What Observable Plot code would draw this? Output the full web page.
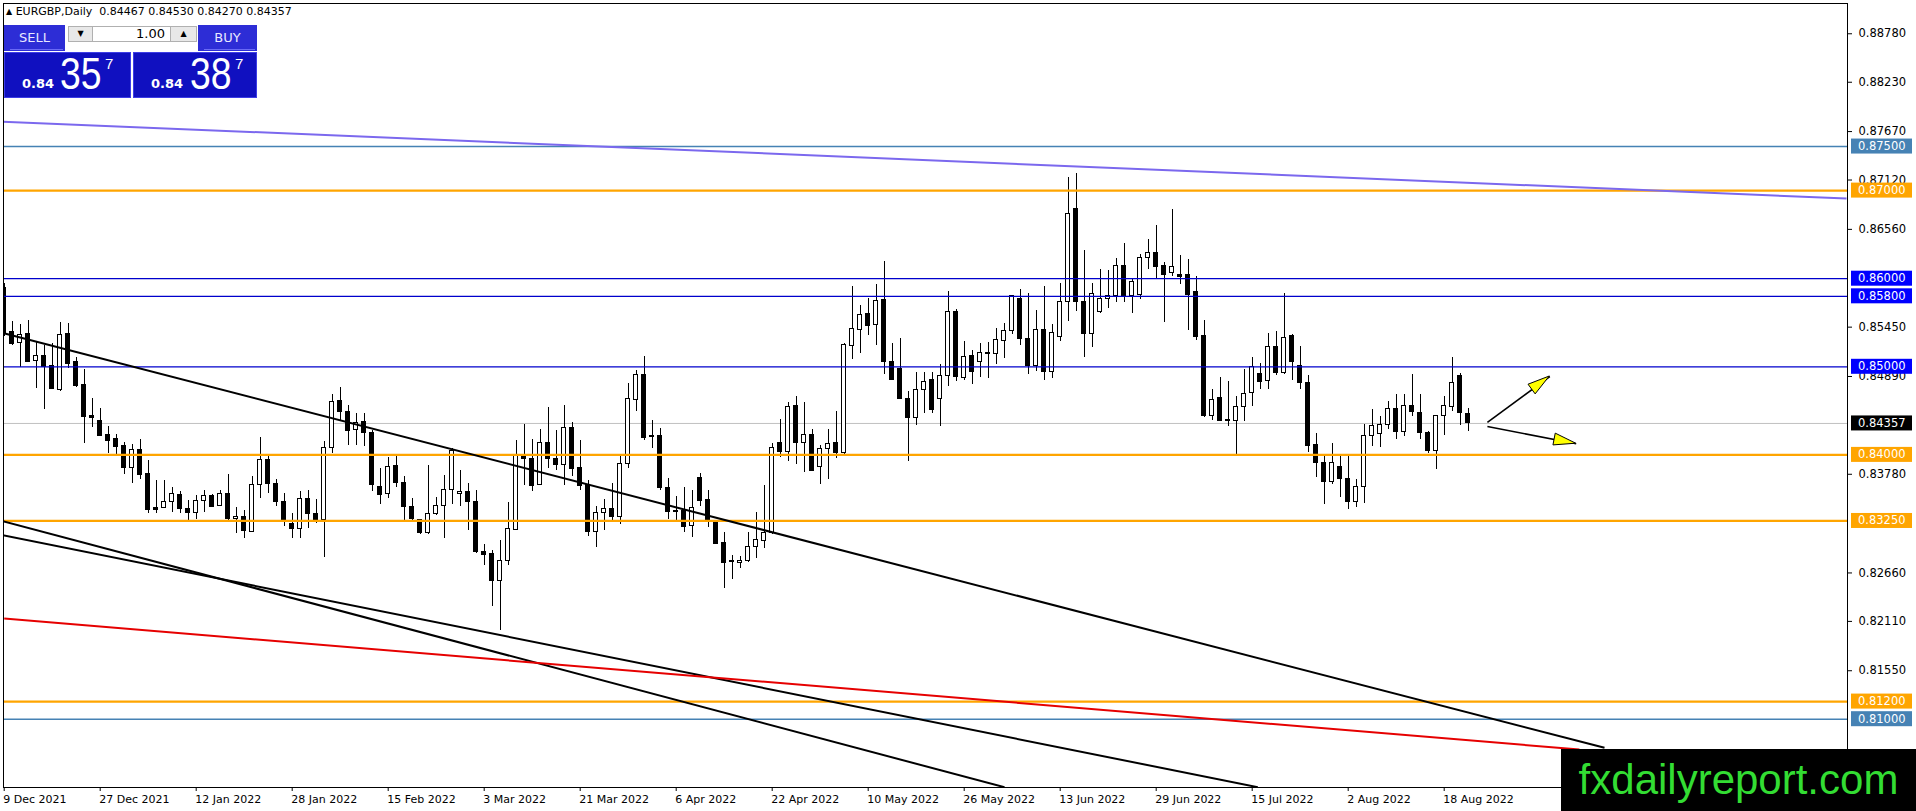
<!DOCTYPE html>
<html>
<head>
<meta charset="utf-8">
<script src="https://cdn.jsdelivr.net/npm/d3@7"></script>
<script src="https://cdn.jsdelivr.net/npm/@observablehq/plot@0.6"></script>
<style>
html,body{margin:0;padding:0;background:#fff;width:1916px;height:811px;overflow:hidden;font-family:"DejaVu Sans",sans-serif;}
#chart{position:absolute;left:0;top:0;}
#hdr{position:absolute;left:6px;top:5px;font-size:11px;line-height:13px;color:#000;white-space:pre;}
#hdr .tri{font-size:8px;vertical-align:1px;}
.hd{position:absolute;background:#2d2dd6;color:#e8e8ff;font-size:13px;text-align:center;line-height:26px;}
.hd .sep{position:absolute;left:6px;right:2px;bottom:1px;height:1px;background:#6a6af5;}
.btn{position:absolute;background:#e8e8e8;border:1px solid #b0b0b0;box-sizing:border-box;font-size:8px;text-align:center;line-height:14px;color:#000;}
.inp{position:absolute;background:#fff;border:1px solid #b0b0b0;box-sizing:border-box;font-size:13px;text-align:right;line-height:14px;padding-right:5px;color:#000;}
.pbox{position:absolute;background:#1010c0;border:1px solid #3d3de6;box-sizing:border-box;color:#fff;}
.pbox span{position:absolute;line-height:1;white-space:pre;}
.small{font-family:"DejaVu Sans";font-weight:bold;font-size:13px;}
.big{font-family:"Liberation Sans",Arial,sans-serif;font-size:44px;transform:scaleX(0.85);transform-origin:left top;}
.sup{font-family:"Liberation Sans",Arial,sans-serif;font-size:15px;}
#wm{position:absolute;left:1561px;top:749px;width:355px;height:62px;background:#000;color:#33dd33;font-family:"Liberation Sans",Arial,sans-serif;font-size:42px;line-height:62px;text-align:center;}
</style>
</head>
<body>
<div id="chart"></div>
<div id="hdr"></div>
<div id="panel"></div>
<div id="wm">fxdailyreport.com</div>
<script>
// ---------- data ----------
const symbol = "EURGBP,Daily";
const tickLabels = ["9 Dec 2021","27 Dec 2021","12 Jan 2022","28 Jan 2022","15 Feb 2022","3 Mar 2022","21 Mar 2022","6 Apr 2022","22 Apr 2022","10 May 2022","26 May 2022","13 Jun 2022","29 Jun 2022","15 Jul 2022","2 Aug 2022","18 Aug 2022"];
const tickBars = [0,12,24,36,48,60,72,84,96,108,120,132,144,156,168,180];

const open = [0.8589,0.8539,0.8527,0.8537,0.8507,0.8512,0.8501,0.8474,0.8537,0.8505,
0.8479,0.8444,0.8438,0.8423,0.8418,0.8410,0.8385,0.8406,0.8378,0.8340,
0.8340,0.8346,0.8355,0.8339,0.8334,0.8348,0.8353,0.8342,0.8356,0.8327,
0.8330,0.8313,0.8366,0.8394,0.8367,0.8346,0.8322,0.8316,0.8350,0.8333,
0.8326,0.8408,0.8461,0.8449,0.8428,0.8437,0.8425,0.8363,0.8356,0.8387,
0.8368,0.8341,0.8326,0.8311,0.8333,0.8342,0.8360,0.8356,0.8358,0.8346,
0.8290,0.8287,0.8257,0.8279,0.8315,0.8399,0.8395,0.8366,0.8413,0.8395,
0.8389,0.8431,0.8385,0.8366,0.8313,0.8334,0.8339,0.8329,0.8390,0.8462,
0.8491,0.8421,0.8421,0.8362,0.8336,0.8336,0.8319,0.8374,0.8349,0.8324,
0.8300,0.8279,0.8277,0.8279,0.8295,0.8302,0.8311,0.8414,0.8403,0.8455,
0.8413,0.8423,0.8386,0.8407,0.8413,0.8402,0.8524,0.8542,0.8560,0.8547,
0.8576,0.8506,0.8498,0.8464,0.8442,0.8474,0.8485,0.8463,0.8490,0.8562,
0.8487,0.8512,0.8505,0.8516,0.8515,0.8529,0.8541,0.8577,0.8532,0.8501,
0.8542,0.8494,0.8534,0.8574,0.8679,0.8574,0.8537,0.8562,0.8577,0.8580,
0.8614,0.8580,0.8581,0.8624,0.8629,0.8614,0.8606,0.8604,0.8604,0.8585,
0.8535,0.8444,0.8465,0.8440,0.8439,0.8454,0.8470,0.8492,0.8484,0.8522,
0.8493,0.8535,0.8501,0.8482,0.8411,0.8391,0.8369,0.8386,0.8373,0.8347,
0.8363,0.8421,0.8424,0.8434,0.8452,0.8426,0.8455,0.8448,0.8425,0.8404,
0.8444,0.8454,0.8489,0.84467];
const high = [0.8594,0.8551,0.8548,0.8552,0.8528,0.8524,0.8526,0.8550,0.8549,0.8510,
0.8497,0.8464,0.8453,0.8432,0.8423,0.8414,0.8412,0.8417,0.8394,0.8371,
0.8371,0.8363,0.8358,0.8348,0.8354,0.8360,0.8355,0.8360,0.8378,0.8340,
0.8337,0.8375,0.8420,0.8399,0.8372,0.8356,0.8334,0.8358,0.8360,0.8349,
0.8415,0.8469,0.8477,0.8456,0.8447,0.8447,0.8428,0.8385,0.8397,0.8398,
0.8376,0.8350,0.8327,0.8388,0.8352,0.8377,0.8407,0.8382,0.8367,0.8360,
0.8298,0.8291,0.8303,0.8346,0.8416,0.8435,0.8417,0.8429,0.8454,0.8428,
0.8456,0.8437,0.8416,0.8371,0.8341,0.8349,0.8368,0.8398,0.8481,0.8496,
0.8512,0.8439,0.8430,0.8373,0.8353,0.8363,0.8360,0.8379,0.8360,0.8326,
0.8312,0.8286,0.8285,0.8312,0.8335,0.8365,0.8413,0.8440,0.8460,0.8466,
0.8460,0.8429,0.8411,0.8429,0.8449,0.8526,0.8591,0.8570,0.8577,0.8593,
0.8620,0.8526,0.8532,0.8472,0.8493,0.8493,0.8494,0.8503,0.8585,0.8565,
0.8529,0.8518,0.8527,0.8528,0.8543,0.8549,0.8581,0.8588,0.8583,0.8564,
0.8591,0.8548,0.8594,0.8715,0.8719,0.8632,0.8594,0.8611,0.8609,0.8623,
0.8640,0.8600,0.8627,0.8645,0.8660,0.8618,0.8678,0.8626,0.8622,0.8602,
0.8553,0.8474,0.8488,0.8483,0.8466,0.8497,0.8510,0.8504,0.8538,0.8540,
0.8583,0.8537,0.8523,0.8490,0.8424,0.8401,0.8413,0.8398,0.8398,0.8372,
0.8435,0.8451,0.8444,0.8461,0.8469,0.8469,0.8491,0.8469,0.8426,0.8445,
0.8466,0.8511,0.8492,0.84530];
const low = [0.8534,0.8524,0.8499,0.8505,0.8475,0.8452,0.8474,0.8472,0.8498,0.8477,
0.8413,0.8431,0.8421,0.8402,0.8401,0.8378,0.8367,0.8372,0.8334,0.8333,
0.8339,0.8335,0.8333,0.8324,0.8327,0.8335,0.8340,0.8341,0.8325,0.8311,
0.8305,0.8312,0.8350,0.8356,0.8341,0.8319,0.8305,0.8305,0.8316,0.8322,
0.8284,0.8402,0.8439,0.8411,0.8411,0.8410,0.8358,0.8344,0.8350,0.8363,
0.8323,0.8326,0.8310,0.8310,0.8331,0.8305,0.8344,0.8341,0.8314,0.8288,
0.8274,0.8228,0.8201,0.8274,0.8314,0.8365,0.8359,0.8365,0.8384,0.8382,
0.8365,0.8376,0.8360,0.8307,0.8295,0.8314,0.8323,0.8321,0.8384,0.8449,
0.8416,0.8407,0.8360,0.8327,0.8326,0.8312,0.8306,0.8341,0.8318,0.8298,
0.8248,0.8259,0.8271,0.8278,0.8282,0.8294,0.8310,0.8397,0.8392,0.8389,
0.8380,0.8382,0.8366,0.8372,0.8396,0.8401,0.8508,0.8515,0.8535,0.8524,
0.8491,0.8484,0.8463,0.8392,0.8433,0.8447,0.8447,0.8432,0.8478,0.8483,
0.8485,0.8480,0.8488,0.8487,0.8503,0.8509,0.8537,0.8524,0.8491,0.8495,
0.8485,0.8487,0.8529,0.8551,0.8563,0.8510,0.8522,0.8560,0.8566,0.8573,
0.8573,0.8560,0.8576,0.8610,0.8600,0.8550,0.8602,0.8593,0.8541,0.8530,
0.8443,0.8439,0.8438,0.8432,0.8401,0.8438,0.8455,0.8474,0.8474,0.8490,
0.8491,0.8485,0.8474,0.8403,0.8374,0.8344,0.8366,0.8352,0.8338,0.8340,
0.8345,0.8409,0.8408,0.8429,0.8417,0.8421,0.8444,0.8417,0.8402,0.8383,
0.8422,0.8449,0.8433,0.84270];
const close = [0.8538,0.8526,0.8536,0.8506,0.8512,0.8500,0.8475,0.8536,0.8503,0.8478,
0.8443,0.8442,0.8422,0.8416,0.8409,0.8385,0.8406,0.8377,0.8338,0.8338,
0.8346,0.8356,0.8339,0.8334,0.8348,0.8353,0.8341,0.8356,0.8327,0.8330,
0.8314,0.8366,0.8394,0.8367,0.8346,0.8326,0.8316,0.8350,0.8333,0.8326,
0.8408,0.8460,0.8449,0.8427,0.8436,0.8425,0.8366,0.8355,0.8386,0.8368,
0.8341,0.8327,0.8311,0.8333,0.8342,0.8360,0.8404,0.8358,0.8346,0.8290,
0.8286,0.8257,0.8280,0.8316,0.8399,0.8395,0.8365,0.8413,0.8395,0.8389,
0.8431,0.8384,0.8365,0.8313,0.8334,0.8339,0.8329,0.8390,0.8463,0.8491,
0.8419,0.8420,0.8362,0.8335,0.8335,0.8318,0.8340,0.8348,0.8324,0.8299,
0.8277,0.8278,0.8280,0.8295,0.8303,0.8311,0.8408,0.8403,0.8454,0.8413,
0.8423,0.8382,0.8407,0.8412,0.8402,0.8525,0.8543,0.8559,0.8546,0.8575,
0.8505,0.8485,0.8464,0.8442,0.8474,0.8483,0.8451,0.8490,0.8562,0.8488,
0.8511,0.8494,0.8516,0.8515,0.8530,0.8541,0.8580,0.8532,0.8501,0.8542,
0.8494,0.8538,0.8574,0.8674,0.8574,0.8537,0.8583,0.8577,0.8580,0.8614,
0.8580,0.8596,0.8624,0.8629,0.8613,0.8604,0.8613,0.8602,0.8582,0.8534,
0.8444,0.8462,0.8438,0.8438,0.8454,0.8469,0.8500,0.8483,0.8522,0.8493,
0.8533,0.8505,0.8482,0.8410,0.8391,0.8369,0.8391,0.8373,0.8347,0.8363,
0.8421,0.8433,0.8434,0.8452,0.8426,0.8455,0.8449,0.8425,0.8404,0.8444,
0.8455,0.8482,0.8447,0.84357];

const priceTicks = [0.8878,0.8823,0.8767,0.8712,0.8656,0.8545,0.8489,0.8378,0.8266,0.8211,0.8155];
const levelValues = [0.8750,0.8700,0.8600,0.8580,0.8500,0.8400,0.8325,0.8120,0.8100];
const levelKinds  = ["steel","orange","blue","blue","blue","orange","orange","orange","steel"];
const bidPrice = 0.84357;
const askPrice = 0.84387;
const lotSize = "1.00";

// trend lines: (bar index, price) -> (bar index, price)
const trendKinds  = ["purple","black","black","black","red"];
const trendBarA   = [-0.46,-0.05,-0.46,-0.46,0];
const trendPriceA = [0.87784,0.85381,0.83255,0.83093,0.82143];
const trendBarB   = [230.29,200.04,125.04,156.7,196.9];
const trendPriceB = [0.86910,0.80675,0.80228,0.80228,0.80656];

// arrows
const arrowBarA   = [185.4,185.4];
const arrowPriceA = [0.84368,0.84322];
const arrowBarB   = [193.2,196.5];
const arrowPriceB = [0.84890,0.84127];

// ---------- styles ----------
const levelStyle = {
  steel:  {stroke:"#4682B4", width:1.6, box:"#4682B4"},
  orange: {stroke:"#FFA500", width:2.2, box:"#FFA500"},
  blue:   {stroke:"#0000CC", width:1.2, box:"#0000FF"}
};
const trendStyle = {purple:{stroke:"#7B68EE",width:2}, black:{stroke:"#000000",width:2}, red:{stroke:"#E60000",width:2}};

// ---------- build ----------
const bars = open.map((o, i) => ({i, open:o, high:high[i], low:low[i], close:close[i]}));
const upBars = bars.filter(d => d.close >= d.open);
const downBars = bars.filter(d => d.close < d.open);
const dojiBars = bars.filter(d => Math.abs(d.close - d.open) < 0.00006);
const fmt5 = v => v.toFixed(5);

const svgNS = "http://www.w3.org/2000/svg";
function el(tag, attrs) { const e = document.createElementNS(svgNS, tag); for (const k in attrs) e.setAttribute(k, attrs[k]); return e; }

function arrowHeads(index, scales) {
  const g = el("g", {});
  for (let k = 0; k < arrowBarA.length; k++) {
    const x1 = scales.x(arrowBarA[k]), y1 = scales.y(arrowPriceA[k]);
    const x2 = scales.x(arrowBarB[k]), y2 = scales.y(arrowPriceB[k]);
    const a = Math.atan2(y2 - y1, x2 - x1), L = 22, W = 6;
    const bx = x2 - L * Math.cos(a), by = y2 - L * Math.sin(a);
    const px = -Math.sin(a) * W, py = Math.cos(a) * W;
    g.append(el("polygon", {points: `${x2},${y2} ${bx+px},${by+py} ${bx-px},${by-py}`, fill: "#FFFF00", stroke: "#000", "stroke-width": 1, "stroke-linejoin": "miter"}));
  }
  return g;
}

function levelBoxes(index, scales, values, dims) {
  const g = el("g", {class: "lvlbox", "font-family": "DejaVu Sans", "font-size": "11.5px", "text-anchor": "start"});
  const x0 = dims.width - dims.marginRight + 4;
  const items = levelValues.map((v, k) => [v, levelStyle[levelKinds[k]].box]).concat([[bidPrice, "#000000"]]);
  for (const [v, c] of items) {
    const y = scales.y(v);
    g.append(el("rect", {x: x0, y: y - 7.5, width: 61, height: 15, fill: c}));
    const t = el("text", {x: x0 + 7, y: y, dy: "0.35em", fill: "#fff", "text-anchor": "start"});
    t.textContent = fmt5(v);
    g.append(t);
  }
  return g;
}

const levelMarks = Object.keys(levelStyle).map(kind => {
  const vals = levelValues.filter((v, k) => levelKinds[k] === kind);
  return Plot.ruleY(vals, {stroke: levelStyle[kind].stroke, strokeWidth: levelStyle[kind].width});
});

const trendMarks = trendKinds.map((kind, k) => Plot.link([k], {
  x1: j => trendBarA[j], y1: j => trendPriceA[j], x2: j => trendBarB[j], y2: j => trendPriceB[j],
  stroke: trendStyle[kind].stroke, strokeWidth: trendStyle[kind].width, clip: true
}));

const plot = Plot.plot({
  width: 1916, height: 811,
  marginLeft: 3, marginRight: 69, marginTop: 3, marginBottom: 24,
  x: {domain: [-0.0875, 230.4125], ticks: tickBars, tickFormat: () => "", tickSize: 4, label: null},
  y: {domain: [0.802247, 0.891237], axis: "right", ticks: priceTicks, tickFormat: fmt5, tickSize: 4, tickPadding: 7, label: null},
  style: {fontFamily: "DejaVu Sans", fontSize: "11.5px", background: "#fff", color: "#000"},
  marks: [
    Plot.ruleY([bidPrice], {stroke: "#C0C0C0", strokeWidth: 1}),
    Plot.ruleX(bars, {x: "i", y1: "low", y2: "high", stroke: "#000", strokeWidth: 1, clip: true, shapeRendering: "crispEdges"}),
    Plot.rect(upBars, {x1: d => d.i - 0.25, x2: d => d.i + 0.25, y1: "open", y2: "close", fill: "#fff", stroke: "#000", strokeWidth: 1, clip: true, shapeRendering: "crispEdges"}),
    Plot.rect(downBars, {x1: d => d.i - 0.25, x2: d => d.i + 0.25, y1: "open", y2: "close", fill: "#000", stroke: "#000", strokeWidth: 1, clip: true, shapeRendering: "crispEdges"}),
    Plot.ruleY(dojiBars, {y: "close", x1: d => d.i - 0.31, x2: d => d.i + 0.31, stroke: "#000", strokeWidth: 1, shapeRendering: "crispEdges"}),
    ...levelMarks,
    ...trendMarks,
    Plot.link([0, 1], {x1: k => arrowBarA[k], y1: k => arrowPriceA[k], x2: k => arrowBarB[k], y2: k => arrowPriceB[k], stroke: "#000", strokeWidth: 1.6}),
    arrowHeads,
    Plot.text(tickLabels, {x: tickBars, text: d => d, frameAnchor: "bottom", textAnchor: "start", lineAnchor: "top", dy: 8, dx: -1, fontSize: 11}),
    Plot.frame({stroke: "#000"}),
    levelBoxes
  ]
});
document.getElementById("chart").append(plot);
const lb = plot.querySelector(".lvlbox");
if (lb) plot.append(lb);

// header line
const last = bars.length - 1;
document.getElementById("hdr").innerHTML = `<span class="tri">\u25B2</span> ${symbol}  ${fmt5(open[last])} ${fmt5(high[last])} ${fmt5(low[last])} ${fmt5(close[last])}`;

// one-click trading panel
function priceParts(p) { const s = fmt5(p); return [s.slice(0, 4), s.slice(4, 6), s.slice(6)]; }
const [bA, bB, bC] = priceParts(bidPrice), [aA, aB, aC] = priceParts(askPrice);
document.getElementById("panel").innerHTML = `
<div class="hd" style="left:4px;top:25px;width:61px;height:26px">SELL<div class="sep"></div></div>
<div class="btn" style="left:68px;top:26px;width:25px;height:16px">\u25BC</div>
<div class="inp" style="left:92px;top:26px;width:79px;height:16px">${lotSize}</div>
<div class="btn" style="left:170px;top:26px;width:27px;height:16px">\u25B2</div>
<div class="hd" style="left:198px;top:25px;width:59px;height:26px">BUY<div class="sep"></div></div>
<div class="pbox" style="left:4px;top:52px;width:127px;height:46px">
  <span class="small" style="left:17px;top:24px">${bA}</span>
  <span class="big" style="left:55px;top:-1px">${bB}</span>
  <span class="sup" style="left:100px;top:3px">${bC}</span>
</div>
<div class="pbox" style="left:133px;top:52px;width:124px;height:46px">
  <span class="small" style="left:17px;top:24px">${aA}</span>
  <span class="big" style="left:56px;top:-1px">${aB}</span>
  <span class="sup" style="left:101px;top:3px">${aC}</span>
</div>`;
</script>
</body>
</html>
